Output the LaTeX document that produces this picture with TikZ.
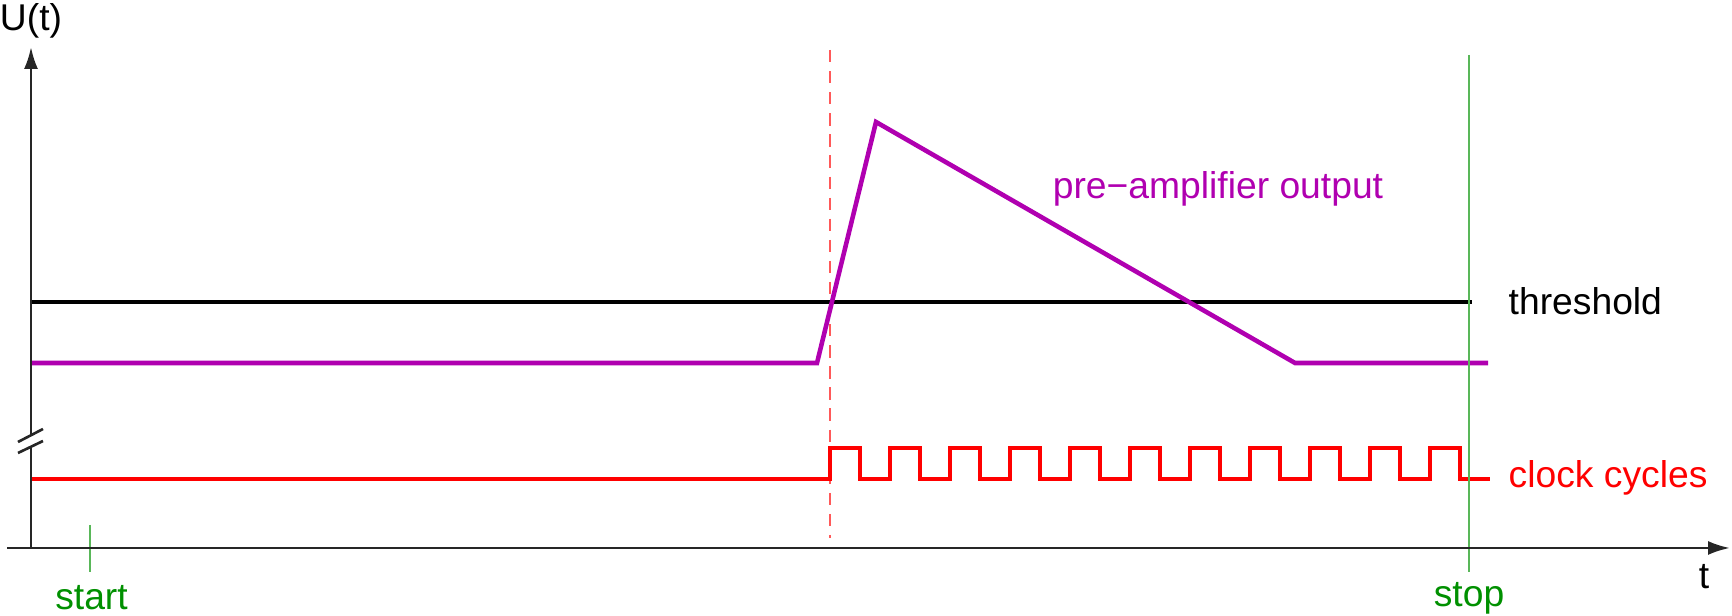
\documentclass[tikz,border=0pt]{standalone}
\usepackage{fontspec}
\setmainfont{Liberation Sans}
\usetikzlibrary{arrows.meta}
\definecolor{pulsepurple}{RGB}{176,0,176}
\definecolor{clockred}{RGB}{255,0,0}
\definecolor{markgreen}{RGB}{0,144,0}

\begin{document}
\begin{tikzpicture}[
    axis/.style={line width=0.75pt, black!85},
    signal/.style={line width=1.3pt, line join=miter},
    marker/.style={line width=0.55pt, markgreen!65},
    lbl/.style={font=\fontsize{10.6pt}{12pt}\selectfont, inner sep=0pt},
    >={Latex[length=2.2mm,width=1.4mm]},
]
    \useasboundingbox (0,0) rectangle (17.32,6.16);

    % threshold and trigger
    \draw[signal, black] (0.31,3.14) -- (14.72,3.14);
    \draw[line width=0.6pt, clockred!65, dash pattern=on 3.5pt off 2.5pt] (8.30,5.66) -- (8.30,0.78);

    % pre-amplifier pulse
    \draw[signal, pulsepurple] (0.31,2.53) -- (8.17,2.53) -- (8.76,4.94) -- (12.95,2.53) -- (14.88,2.53);

    % clock
    \draw[signal, clockred] (0.31,1.37) -- (8.30,1.37)
        \foreach \i in {1,...,11} { -- ++(0,0.31) -- ++(0.3,0) -- ++(0,-0.31) -- ++(0.3,0) };

    % start / stop
    \draw[marker] (0.90,0.91) -- (0.90,0.44);
    \draw[marker] (14.69,5.61) -- (14.69,0.44);

    % axes
    \draw[axis, ->] (0.07,0.68) -- (17.30,0.68);
    \draw[axis] (0.31,0.68) -- (0.31,1.69);
    \draw[axis, ->] (0.31,1.81) -- (0.31,5.69);
    \draw[axis] (0.18,1.74) -- (0.43,1.87);
    \draw[axis] (0.18,1.63) -- (0.43,1.75);

    % labels
    \node[lbl] (ulab) at (0.31,5.95) {U(t)};
    \node[lbl] (tlab) at (17.04,0.39) {t};
    \node[lbl, markgreen] (startlab) at (0.915,0.18) {start};
    \node[lbl, markgreen] (stoplab) at (14.69,0.18) {stop};
    \node[lbl, anchor=west] (thrlab) at (15.08,3.15) {threshold};
    \node[lbl, anchor=west, clockred] (clklab) at (15.08,1.38) {clock cycles};
    \node[lbl, pulsepurple] (amplab) at (12.18,4.27) {pre−amplifier output};
\end{tikzpicture}
\end{document}
